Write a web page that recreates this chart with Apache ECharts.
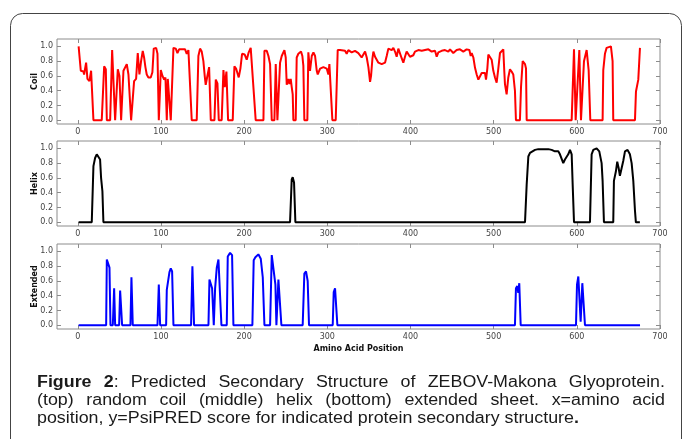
<!DOCTYPE html>
<html>
<head>
<meta charset="utf-8">
<script src="https://cdn.jsdelivr.net/npm/echarts@6/dist/echarts.min.js"></script>
<style>
html,body{margin:0;padding:0;background:#fff;}
#chart{width:683px;height:439px;}
</style>
</head>
<body>
<div id="chart"></div>
<script>
var xTicks=[0,100,200,300,400,500,600,700];
var yTicks=[0,0.2,0.4,0.6,0.8,1.0];
var panelNames=["Coil","Helix","Extended"];
var panelColors=["#ff0000","#000000","#0000ff"];
var xName="Amino Acid Position";

// [amino acid position, PsiPRED score]
var coilScore=[[1,1.0],[3.6,0.67],[6.8,0.66],[7.6,0.62],[10,0.78],[11.6,0.56],[14,0.53],[16,0.67],[16.8,0.65],[18.8,0],[28.8,0],[31.7,0.73],[33.7,0.69],[34.9,0],[38.9,0],[41.3,0.95],[44.9,0],[48.1,0.69],[50.1,0.6],[52.1,0],[54.9,0.67],[56.9,0.67],[58.9,0.76],[60.9,0.62],[62.1,0.6],[64.1,0],[66.1,0],[67.7,0.53],[70.1,0.56],[72.1,0.91],[74.1,0.62],[76.1,0.8],[78.1,0.94],[79.7,0.85],[81.3,0.72],[82.9,0.62],[84.9,0.58],[87.7,0.58],[89.7,0.65],[91.3,0.97],[94.2,0.98],[95.8,0.9],[97.4,0],[98.2,0],[99.8,0.68],[101.8,0.6],[103.8,0.55],[105.4,0.58],[107,0],[108.2,0.56],[110.6,0.56],[111.8,0],[113,0],[115,0.98],[117.8,0.97],[119.8,0.91],[121.8,0.96],[125,0.96],[127,0.95],[129,0.96],[131,0.9],[133,0.95],[135,0.93],[137,0],[143,0],[145,0.87],[147,0.97],[149,0.93],[151,0.8],[152.6,0.6],[153.8,0.48],[155.8,0.6],[157.9,0.72],[159.9,0],[164.3,0],[165.9,0.55],[167.9,0.5],[169.5,0],[173,0],[175.1,0.68],[176.7,0.45],[178.7,0.66],[180.7,0],[186.3,0],[188.3,0.73],[190.3,0.7],[191.9,0.72],[193.5,0.58],[195.5,0.7],[197.5,0.9],[200.7,0.89],[203.1,0.82],[205.5,0.92],[207.9,0.98],[210.3,0.96],[213.9,0],[223.2,0],[224.4,0.94],[227.2,0.94],[229.2,0.87],[231.2,0.76],[233.2,0],[236.4,0],[238,0.76],[240,0],[242.4,0],[243.2,0.78],[245.2,0.87],[248.4,0.95],[250,0.85],[251.2,0.48],[253.2,0.56],[254.4,0.49],[256,0.56],[257.2,0.45],[258.4,0.35],[259.2,0],[262,0],[263.2,0.85],[265.2,0.9],[268.4,0.93],[270,0.87],[271.2,0.74],[272.4,0],[276,0],[277.2,0.92],[279.2,0.67],[281.3,0.87],[283.3,0.92],[285.3,0.87],[287.3,0.67],[288.5,0.62],[291.3,0.7],[295.3,0.72],[299.3,0.7],[301.3,0.62],[302.5,0.76],[304.5,0.74],[306.1,0],[310.1,0],[312.5,0.95],[315.3,0.95],[321.3,0.94],[323.3,0.9],[325.3,0.95],[329.3,0.92],[333.3,0.94],[337.3,0.91],[339.3,0.9],[341.3,0.85],[343.3,0.84],[345.4,0.93],[347.4,0.85],[349.4,0.72],[351.4,0.52],[352.6,0.6],[354.2,0.83],[355.4,0.93],[357.4,0.86],[359.4,0.82],[361.4,0.78],[363.4,0.8],[365.4,0.76],[367.4,0.78],[369.4,0.78],[371.4,0.87],[373.4,0.97],[377.4,0.95],[379.4,0.98],[381.4,0.93],[383.4,0.86],[385.4,0.97],[387.4,0.97],[389.4,0.84],[391.4,0.78],[393.4,0.86],[395.4,0.93],[397.4,0.93],[399.4,0.86],[401.4,0.84],[403.4,0.88],[405.4,0.93],[407.5,0.91],[409.5,0.95],[413.5,0.94],[417.5,0.95],[419.5,0.94],[421.5,0.96],[425.5,0.93],[429.5,0.94],[431.5,0.86],[433.5,0.92],[437.5,0.94],[441.5,0.95],[445.5,0.93],[447.5,0.96],[451.5,0.91],[455.5,0.95],[459.5,0.96],[463.5,0.93],[467.5,0.96],[470.8,0.95],[472.4,0.87],[473.6,0.91],[475.6,0.85],[477.6,0.71],[479.6,0.62],[481.6,0.55],[483.6,0.57],[485.6,0.64],[487.6,0.66],[489.6,0.64],[490.8,0.55],[492.4,0.7],[493.6,0.89],[495.6,0.87],[497.6,0.82],[499.6,0.67],[501.6,0.58],[503.6,0.51],[505.6,0.7],[507.6,0.91],[511.6,0.96],[512.8,0.66],[513.6,0.49],[515.6,0.35],[517.6,0.58],[519.6,0.69],[521.6,0.66],[523.6,0.62],[525.6,0.4],[526.8,0],[531.6,0],[532.9,0.45],[534.9,0.8],[537.7,0.76],[538.9,0.7],[539.7,0],[593.8,0],[596.6,0.96],[598.6,0],[601,0],[603,0.95],[605,0],[607,0],[608.6,0.8],[611.8,0.95],[614.2,0.68],[616.2,0],[631,0],[631.8,0.68],[633.8,0.9],[635.8,0.98],[641,1.0],[643,0.8],[643.8,0],[669.9,0],[671.1,0.39],[673.9,0.55],[675.9,0.98]];

var helixScore=[[1,0],[16.8,0],[18.8,0.76],[20.8,0.87],[22.8,0.92],[24.8,0.92],[26.8,0.85],[28,0.6],[29.6,0.42],[30.8,0],[255.2,0],[257.2,0.58],[258.4,0.61],[260,0.54],[261.6,0],[537.7,0],[539.7,0.51],[541.7,0.89],[543.7,0.94],[545.7,0.96],[549.7,0.98],[553.7,0.99],[559.7,0.99],[565.7,0.99],[569.7,0.98],[573.7,0.96],[577.7,0.96],[579.7,0.92],[581.7,0.94],[583.7,0.8],[585.7,0.85],[587.7,0.87],[589.7,0.92],[591.8,0.98],[593.8,0.92],[595,0.51],[596.6,0],[615.8,0],[617.8,0.92],[619.8,0.98],[623.8,1.0],[627,0.96],[629.8,0.8],[631,0.56],[632.6,0],[643.8,0],[644.6,0.56],[645.8,0.56],[647,0.69],[648.6,0.82],[650.2,0.74],[651.8,0.63],[653.8,0.65],[655.8,0.83],[657.9,0.96],[661,0.98],[663.8,0.92],[665.9,0.8],[667.9,0.56],[669.9,0.16],[671,0],[675.8,0]];

var extendedScore=[[1,0],[34.1,0],[34.9,0.89],[36.9,0.87],[38.1,0.78],[39.3,0],[42.1,0],[43.7,0.5],[44.9,0],[49.7,0],[50.9,0.47],[52.1,0.47],[53.3,0],[63.3,0],[64.5,0.65],[66.1,0],[95.8,0],[97.4,0.55],[99,0],[106.2,0],[107,0.48],[109,0.48],[110.2,0.72],[111.8,0.77],[113.4,0.73],[115,0],[136.2,0],[137.8,0.8],[139.8,0],[157.1,0],[158.3,0.62],[159.9,0.6],[161.5,0.5],[163.5,0],[165.1,0.5],[167.1,0.78],[169.1,0.89],[171.1,0.88],[172.7,0],[179.1,0],[180.3,0.93],[183.1,0.98],[185.5,0.95],[187.1,0],[209.9,0],[211.5,0.88],[213.5,0.92],[217.1,0.96],[220,0.9],[222.4,0.65],[224.4,0],[231.2,0],[233.2,0.95],[235.3,0.93],[237.6,0.55],[238.8,0],[241.2,0.62],[243.2,0.6],[244.8,0],[270.4,0],[272.4,0.7],[274.4,0.73],[276.4,0.6],[278,0],[306.5,0],[307.7,0.45],[309.3,0.5],[310.5,0.52],[312.1,0],[525.6,0],[526.8,0.5],[528.4,0.53],[529.6,0.44],[530.8,0.57],[532.5,0],[599,0],[600.2,0.55],[601.8,0.66],[603,0.64],[604.6,0.05],[606.6,0.57],[607.8,0.57],[609.8,0],[676,0]];

// ** marks bold runs
var captionLines=[
  "**Figure 2**: Predicted Secondary Structure of ZEBOV-Makona Glyoprotein.",
  "(top) random coil (middle) helix (bottom) extended sheet. x=amino acid",
  "position, y=PsiPRED score for indicated protein secondary structure**.**"
];

var scores=[coilScore,helixScore,extendedScore];
var gridTops=[39,141,244];
var frameColor="#8c8c8c";
var tickFont="DejaVu Sans";

var chart=echarts.init(document.getElementById("chart"));

var grids=[],xAxes=[],yAxes=[],series=[];
for(var i=0;i<3;i++){
    grids.push({left:57,top:gridTops[i],width:603,height:85,show:true,borderColor:frameColor,borderWidth:1});
    var tick={inside:true,length:4,lineStyle:{color:frameColor},customValues:xTicks};
    xAxes.push({
        gridIndex:i,type:"value",min:-25,max:700,position:"bottom",
        axisLine:{show:false,onZero:false},splitLine:{show:false},
        axisTick:tick,
        axisLabel:{customValues:xTicks,fontSize:8,color:"#444",margin:4,fontFamily:tickFont},
        name:i==2?xName:"",nameLocation:"middle",nameGap:16,nameMoveOverlap:false,
        nameTextStyle:{fontWeight:"bold",fontSize:8,color:"#111",fontFamily:tickFont}
    },{
        gridIndex:i,type:"value",min:-25,max:700,position:"top",
        axisLine:{show:false,onZero:false},splitLine:{show:false},
        axisTick:tick,axisLabel:{show:false}
    });
    var ytick={inside:true,length:4,lineStyle:{color:frameColor},customValues:yTicks};
    yAxes.push({
        gridIndex:i,type:"value",min:-0.05,max:1.1,position:"left",
        axisLine:{show:false,onZero:false},splitLine:{show:false},
        axisTick:ytick,
        axisLabel:{customValues:yTicks,fontSize:8,color:"#444",margin:4,fontFamily:tickFont,
            formatter:function(v){return v.toFixed(1);}},
        name:panelNames[i],nameLocation:"middle",nameGap:18,nameMoveOverlap:false,
        nameTextStyle:{fontWeight:"bold",fontSize:8,color:"#111",fontFamily:tickFont}
    },{
        gridIndex:i,type:"value",min:-0.05,max:1.1,position:"right",
        axisLine:{show:false,onZero:false},splitLine:{show:false},
        axisTick:ytick,axisLabel:{show:false}
    });
    series.push({
        type:"line",xAxisIndex:2*i,yAxisIndex:2*i,
        data:scores[i],showSymbol:false,symbol:"none",silent:true,
        lineStyle:{color:panelColors[i],width:2},
        itemStyle:{color:panelColors[i]}
    });
}

// caption, justified like the journal figure (the scan is a little wide)
var capLeft=37,capRight=665,capTop=383,capLead=18,capSize=16,capStretch=1.115;
var ctx=document.createElement("canvas").getContext("2d");
function capFont(bold){return (bold?"bold ":"")+capSize+"px 'Liberation Sans', Arial, sans-serif";}
function measure(t,bold){ctx.font=capFont(bold);return ctx.measureText(t).width*capStretch;}
function parseLine(line){
    var words=[[]];
    line.split("**").forEach(function(p,k){
        var bold=k%2===1;
        p.split(" ").forEach(function(t,j){
            if(j>0) words.push([]);
            if(t) words[words.length-1].push({text:t,bold:bold});
        });
    });
    return words.filter(function(w){return w.length;});
}
var graphics=[{
    type:"rect",silent:true,
    shape:{x:10.5,y:13.5,width:671,height:500,r:12},
    style:{fill:null,stroke:"#444",lineWidth:1}
}];
captionLines.forEach(function(line,li){
    var words=parseLine(line);
    var widths=words.map(function(w){
        return w.reduce(function(s,seg){return s+measure(seg.text,seg.bold);},0);
    });
    var total=widths.reduce(function(a,b){return a+b;},0);
    var last=li==captionLines.length-1;
    var gap=last?measure(" ",false):(capRight-capLeft-total)/(words.length-1);
    var x=capLeft;
    words.forEach(function(w,wi){
        var sx=x;
        w.forEach(function(seg){
            graphics.push({
                type:"text",silent:true,x:sx,y:capTop+li*capLead,scaleX:capStretch,
                style:{text:seg.text,font:capFont(seg.bold),fill:"#1a1a1a",verticalAlign:"middle",align:"left"}
            });
            sx+=measure(seg.text,seg.bold);
        });
        x+=widths[wi]+gap;
    });
});

chart.setOption({
    animation:false,
    backgroundColor:"#fff",
    grid:grids,
    xAxis:xAxes,
    yAxis:yAxes,
    series:series,
    graphic:graphics
});
</script>
</body>
</html>
